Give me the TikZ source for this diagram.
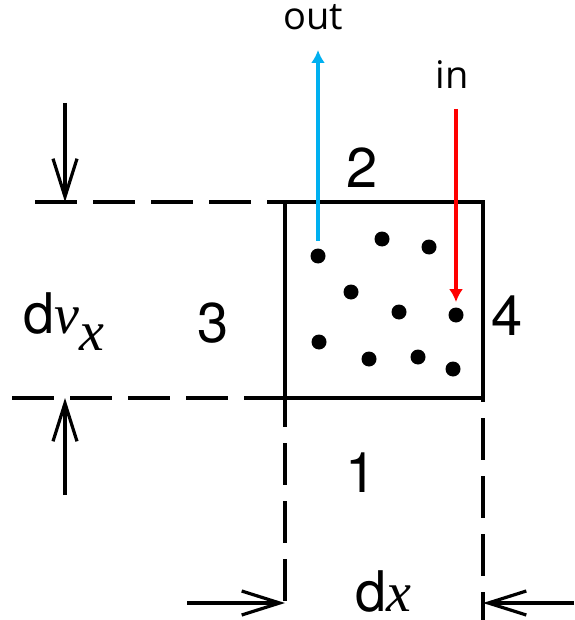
\documentclass[tikz,border=0pt]{standalone}
\usepackage{fontspec}
\setmainfont{TeX Gyre Heros}
\newfontfamily\varfont{Liberation Serif}
\newfontfamily\flowfont{Open Sans}
\usetikzlibrary{arrows.meta}
\definecolor{outblue}{RGB}{0,176,240}
\definecolor{inred}{RGB}{255,0,0}
\tikzset{
  num/.style={inner sep=0pt, font=\fontsize{28}{30}\selectfont},
  flowlabel/.style={inner sep=0pt, font=\flowfont\fontsize{19}{22}\selectfont},
  dot/.style={circle, fill, inner sep=0pt, minimum size=7.5pt},
  gridline/.style={line width=2pt, dash pattern=on 21pt off 8pt},
  dimarrow/.style={line width=2.1pt, -{Straight Barb[length=19pt,width=12pt,line width=1.6pt]}},
  flow/.style={line width=1.8pt, -{Latex[length=6.5pt,width=7pt]}}
}
\begin{document}
\begin{tikzpicture}[x=0.5pt, y=-0.5pt]
\useasboundingbox (0,0) rectangle (574,620);
\node[draw, line width=2.4pt, outer sep=0pt, inner sep=0pt, minimum width=99pt, minimum height=98pt] at (384,300) (cell) {};
\node[num] at (362,168) (two) {2};
\node[num] at (213,323) (three) {3};
\node[num] at (507,316) (four) {4};
\node[num] at (361,473) (one) {1};
\node[num, anchor=base west] at (23,333) (dvx) {d{\varfont\itshape v\raisebox{-8.5pt}{x}}};
\node[num, anchor=base west] at (355,611) (dx) {d{\varfont\itshape x}};
\node[flowlabel, anchor=base] at (313,30) (out) {out};
\node[flowlabel, anchor=base] at (452,89) (in) {in};
\node[dot] at (318,256) (d1) {};
\node[dot] at (382,239) (d2) {};
\node[dot] at (429,247) (d3) {};
\node[dot] at (351,292) (d4) {};
\node[dot] at (399,312) (d5) {};
\node[dot] at (456,315) (d6) {};
\node[dot] at (319,342) (d7) {};
\node[dot] at (369,359) (d8) {};
\node[dot] at (418,357) (d9) {};
\node[dot] at (453,369) (d10) {};
\coordinate (vtop) at (65,103);
\coordinate (vbot) at (65,495);
\coordinate (hleft) at (187,603);
\coordinate (hright) at (574,603);
\coordinate (gtop) at (35,202);
\coordinate (gbot) at (12,398);
\coordinate (gend) at (483,620);
\draw[gridline] (gtop) -- (cell.north west);
\draw[gridline] (gbot) -- (cell.south west);
\draw[gridline, dash phase=6.5pt] (cell.south west) -- (cell.south west |- hleft);
\draw[gridline, dash phase=19pt] (cell.south east) -- (gend);
\draw[dimarrow] (vtop) -- (vtop |- cell.north);
\draw[dimarrow] (vbot) -- (vbot |- cell.south);
\draw[dimarrow] (hleft) -- (hleft -| cell.west);
\draw[dimarrow] (hright) -- (hright -| cell.east);
\draw[flow, outblue, shorten <=3.5pt, shorten >=10pt] (d1.north) -- (d1.north |- out.base);
\draw[flow, inred, shorten <=10pt, shorten >=2.5pt] (d6.north |- in.base) -- (d6.north);
\end{tikzpicture}
\end{document}
